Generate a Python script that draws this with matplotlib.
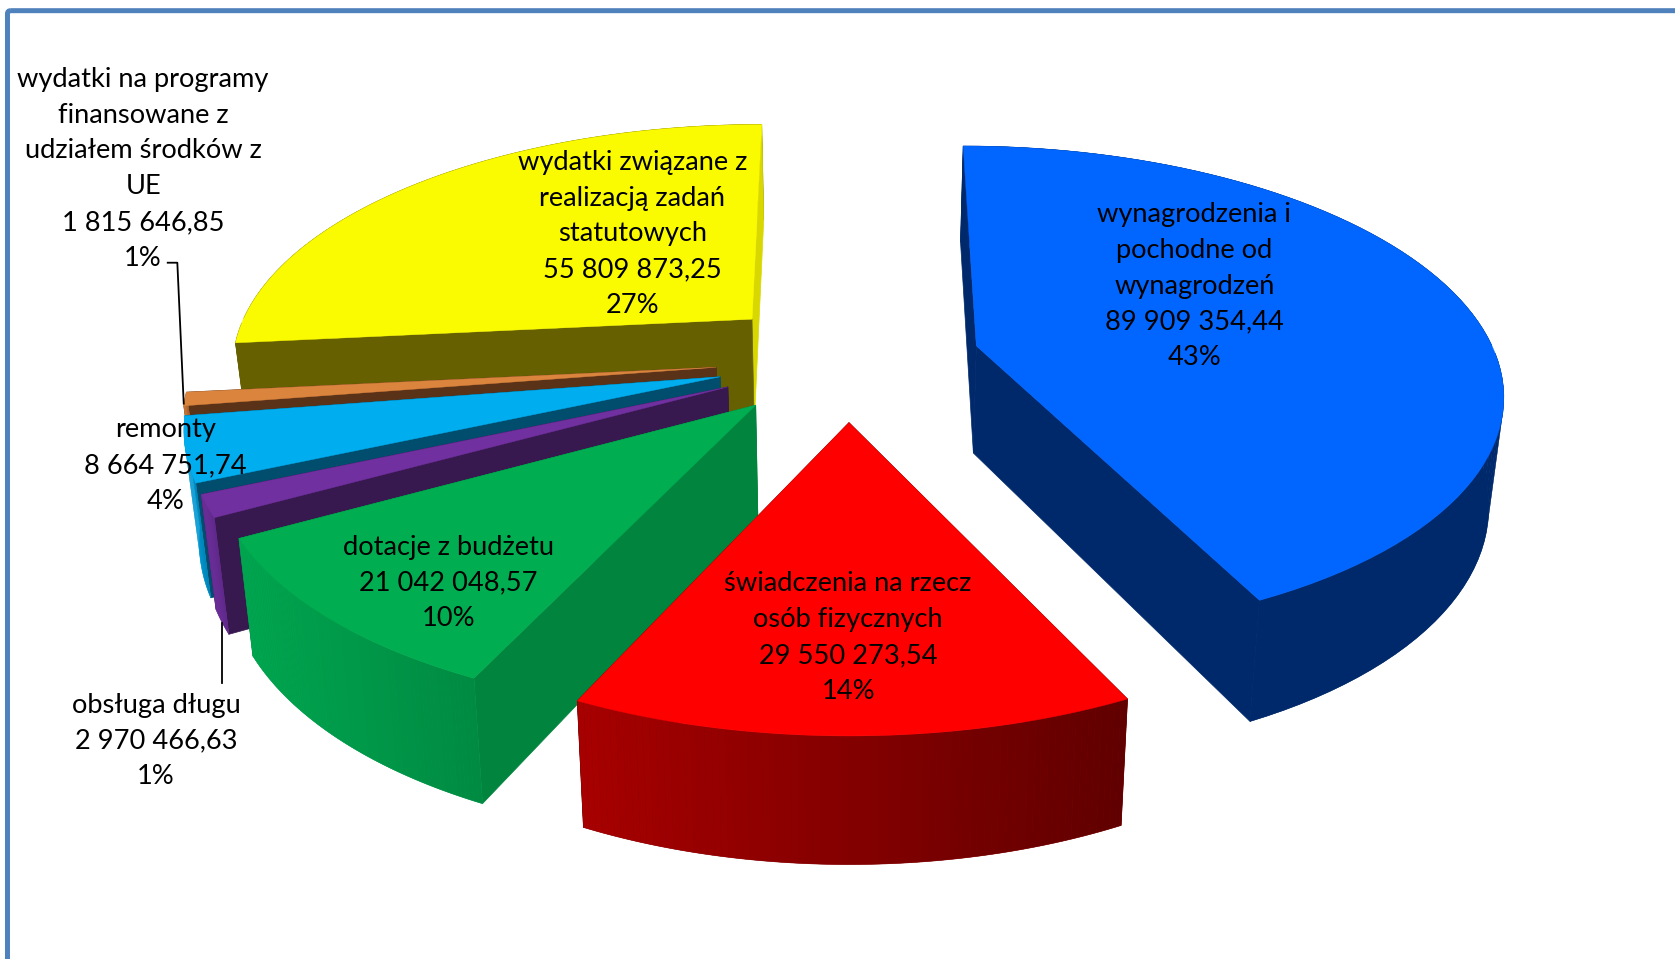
import numpy as np
import matplotlib
matplotlib.use('Agg')
import matplotlib.pyplot as plt
from matplotlib.patches import FancyBboxPatch

# data, clockwise from 12 o'clock
categories = ['wynagrodzenia i\npochodne od\nwynagrodzeń',
              'świadczenia na rzecz\nosób fizycznych',
              'dotacje z budżetu',
              'obsługa długu',
              'remonty',
              'wydatki na programy\nfinansowane z\nudziałem środków z\nUE',
              'wydatki związane z\nrealizacją zadań\nstatutowych']
values = [89909354.44, 29550273.54, 21042048.57, 2970466.63,
          8664751.74, 1815646.85, 55809873.25]

top_colors = ['#0066FF', '#FF0000', '#00AD50', '#7030A0', '#00ADEF', '#DB843D', '#FAFA00']
edge_colors = ['#00296B', '#600000', '#00843E', '#37184F', '#004D6E', '#5A3218', '#666000']
end_colors = ['#00296B', '#600000', '#00843E', '#37184F', '#004D6E', '#5A3218', '#D8D800']
wall_left = ['#00296B', '#A80000', '#00A650', '#7030A0', '#009FDC', '#DB843D', '#666000']
wall_right = ['#00296B', '#600000', '#008A42', '#5E2888', '#007FB0', '#A0602C', '#666000']

# label centres in picture units
label_pos = [(1118, 268), (794, 597), (420, 546), (146, 694), (155, 436), (134, 158), (592, 219)]

# projection of the pie plane
X0 = 794.0
HORIZON = -1500.0
XSCALE = 2.52
Y_CENTER = 5.445
EXPLODE = 0.17
DEPTH = 0.055
SHRINK = 0.977


def project(x, y, low=False):
    a = 1e4 / y
    sx = x * a / XSCALE
    sy = HORIZON + a
    if low:
        sx = sx * SHRINK
        sy = sy + DEPTH * a
    return X0 + sx, sy


def radius(t):
    return 0.667 - 0.04 * np.cos(t)


def rgb(c):
    return np.array(matplotlib.colors.to_rgb(c))


def draw_wall(ax, i, rx, ry, idx, low_x, high_x, z):
    # one stretch of the rounded wall: solid base, then shaded strips
    if len(idx) < 2:
        return
    sx, sy = project(rx[idx], ry[idx])
    lx, ly = project(rx[idx], ry[idx], True)
    f = (sx - low_x) / (high_x - low_x)
    cols = rgb(wall_left[i]) * (1 - f)[:, None] + rgb(wall_right[i]) * f[:, None]
    ax.fill(np.r_[sx, lx[::-1]], np.r_[sy, ly[::-1]], color=cols.mean(axis=0), lw=0.4, zorder=z)
    for j in range(len(idx) - 1):
        ax.fill([sx[j], sx[j + 1], lx[j + 1], lx[j]], [sy[j], sy[j + 1], ly[j + 1], ly[j]],
                color=cols[j], lw=0, zorder=z)


fig = plt.figure(figsize=(16.75, 9.59), dpi=100)
ax = fig.add_axes([0, 0, 1, 1])
ax.set_xlim(0, 1568)
ax.set_ylim(898, 0)
ax.axis('off')

ax.add_patch(FancyBboxPatch((7, 10), 1700, 1000, boxstyle='round,pad=0,rounding_size=3',
                            fill=False, ec='#4F81BD', lw=3.6, zorder=1))

total = sum(values)
starts = np.cumsum([0] + values[:-1]) / total * 2 * np.pi
spans = np.array(values) / total * 2 * np.pi

# back to front
order = [6, 5, 4, 3, 2, 0, 1]
z = 2
for i in order:
    mid = starts[i] + spans[i] / 2
    cx = EXPLODE * np.sin(mid)
    cy = Y_CENTER + EXPLODE * np.cos(mid)
    t = np.linspace(starts[i], starts[i] + spans[i], 80)
    rx = cx + radius(t) * np.sin(t)
    ry = cy + radius(t) * np.cos(t)
    sx, sy = project(rx, ry)
    low_x, high_x = sx.min(), sx.max()
    back = np.where(np.cos(t) > 0)[0]
    front = np.where(np.cos(t) <= 0)[0]

    # part of the wall turned away, then radial walls, then the part facing us
    draw_wall(ax, i, rx, ry, back, low_x, high_x, z)
    z += 1
    for k, col in [(-1, end_colors[i]), (0, edge_colors[i])]:
        p = [project(cx, cy), project(rx[k], ry[k]), project(rx[k], ry[k], True), project(cx, cy, True)]
        ax.fill(*zip(*p), color=col, lw=0.5, zorder=z)
        z += 1
    draw_wall(ax, i, rx, ry, front, low_x, high_x, z)
    z += 1

    # top face
    ax0, ay0 = project(cx, cy)
    ax.fill(np.r_[ax0, sx], np.r_[ay0, sy], color=top_colors[i], lw=0.3, zorder=z)
    z += 1

# leader lines
ax.plot([157, 166, 172], [246, 246, 378], color='black', lw=1.3, zorder=z)
ax.plot([208, 208], [583, 640], color='black', lw=1.3, zorder=z)

for name, v, pos in zip(categories, values, label_pos):
    amount = f'{v:,.2f}'.replace(',', ' ').replace('.', ',')
    txt = f'{name}\n{amount}\n{round(v / total * 100)}%'
    ax.text(pos[0], pos[1], txt, ha='center', va='center', family=['Lato', 'DejaVu Sans'],
            fontsize=19.6, linespacing=1.54, color='black', zorder=z + 1)

plt.savefig('out.png', dpi=100)
plt.close()
